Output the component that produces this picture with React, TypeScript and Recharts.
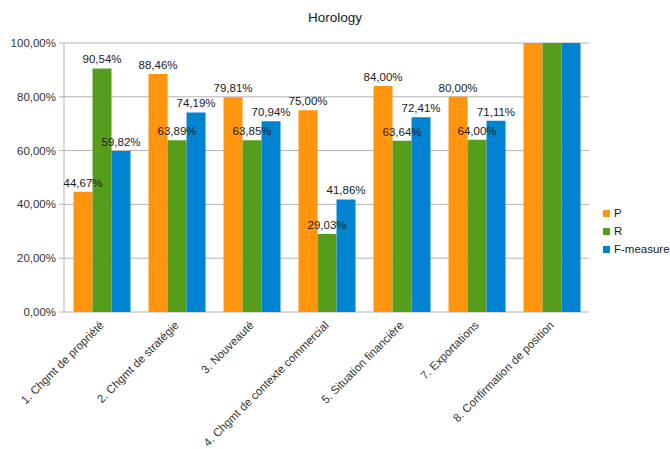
import { BarChart, Bar, XAxis, YAxis, CartesianGrid, LabelList } from 'recharts';

const categories = [
  '1. Chgmt de propriété',
  '2. Chgmt de stratégie',
  '3. Nouveauté',
  '4. Chgmt de contexte commercial',
  '5. Situation financière',
  '7. Exportations',
  '8. Confirmation de position',
];
const precision = [44.67, 88.46, 79.81, 75.0, 84.0, 80.0, 100];
const recall = [90.54, 63.89, 63.85, 29.03, 63.64, 64.0, 100];
const fMeasure = [59.82, 74.19, 70.94, 41.86, 72.41, 71.11, 100];
const yTicks = [0, 20, 40, 60, 80, 100];
const edgeTicks = [0, 1, 2, 3, 4, 5, 6, 7];

const series = [
  { key: 'P', name: 'P', color: '#ff950e' },
  { key: 'R', name: 'R', color: '#579d1c' },
  { key: 'F', name: 'F-measure', color: '#0084d1' },
];

const data = categories.map((name, i) => ({ name, P: precision[i], R: recall[i], F: fMeasure[i] }));

const FONT = '"Liberation Sans", Arial, sans-serif';
const GRID = '#b3b3b3';
const fmt = (v: number) => v.toFixed(2).replace('.', ',') + '%';

// value labels sit on top of each bar; the last group carries none
const ValueLabel = (props: any) => {
  const { x, y, width, value, index } = props;
  if (index === categories.length - 1) return null;
  return (
    <text x={x + width / 2} y={y - 5} textAnchor="middle" fontSize={11.5} fontFamily={FONT} fill="#1a1a1a">
      {fmt(value)}
    </text>
  );
};

const CategoryTick = (props: any) => {
  const { x, y, payload } = props;
  return (
    <g transform={`translate(${x + 3},${y + 12})`}>
      <text x={0} y={0} textAnchor="end" transform="rotate(-45)" fontSize={11.5} fontFamily={FONT} fill="#333">
        {payload.value}
      </text>
    </g>
  );
};

export default function App() {
  return (
    <div style={{ position: 'absolute', left: 0, top: 0, width: 670, height: 449, background: '#fff' }}>
      <div style={{ position: 'absolute', top: 10, width: 670, textAlign: 'center', fontFamily: FONT, fontSize: 13.5, color: '#1a1a1a' }}>
        Horology
      </div>
      <div style={{ position: 'absolute', left: 603, top: 204, fontFamily: FONT, fontSize: 11.5, color: '#1a1a1a' }}>
        {series.map((s) => (
          <div key={s.key} style={{ display: 'flex', alignItems: 'center', height: 18 }}>
            <span style={{ width: 7, height: 7, background: s.color, marginRight: 4 }} />
            {s.name}
          </div>
        ))}
      </div>
      <BarChart
        width={670}
        height={449}
        data={data}
        margin={{ top: 43, right: 81, bottom: 0, left: 0 }}
        barCategoryGap="12.7%"
        barGap={0}
      >
        <CartesianGrid vertical={false} stroke={GRID} />
        <XAxis xAxisId="edges" type="number" domain={[0, 7]} ticks={edgeTicks} height={0} tick={false}
          axisLine={{ stroke: GRID }} tickLine={{ stroke: GRID }} tickSize={5} allowDataOverflow />
        <XAxis dataKey="name" interval={0} height={137} tick={<CategoryTick />} axisLine={false} tickLine={false} tickSize={0} />
        <YAxis domain={[0, 100]} ticks={yTicks} width={64} tickFormatter={fmt} interval={0}
          axisLine={{ stroke: GRID }} tickLine={{ stroke: GRID }} tickSize={5} tickMargin={3}
          tick={{ fontSize: 11.5, fontFamily: FONT, fill: '#333' }} />
        <YAxis yAxisId="frame" orientation="right" width={0} domain={[0, 100]} tick={false} tickLine={false}
          axisLine={{ stroke: GRID }} />
        {series.map((s) => (
          <Bar key={s.key} dataKey={s.key} name={s.name} fill={s.color} isAnimationActive={false}>
            <LabelList dataKey={s.key} content={<ValueLabel />} />
          </Bar>
        ))}
      </BarChart>
    </div>
  );
}
